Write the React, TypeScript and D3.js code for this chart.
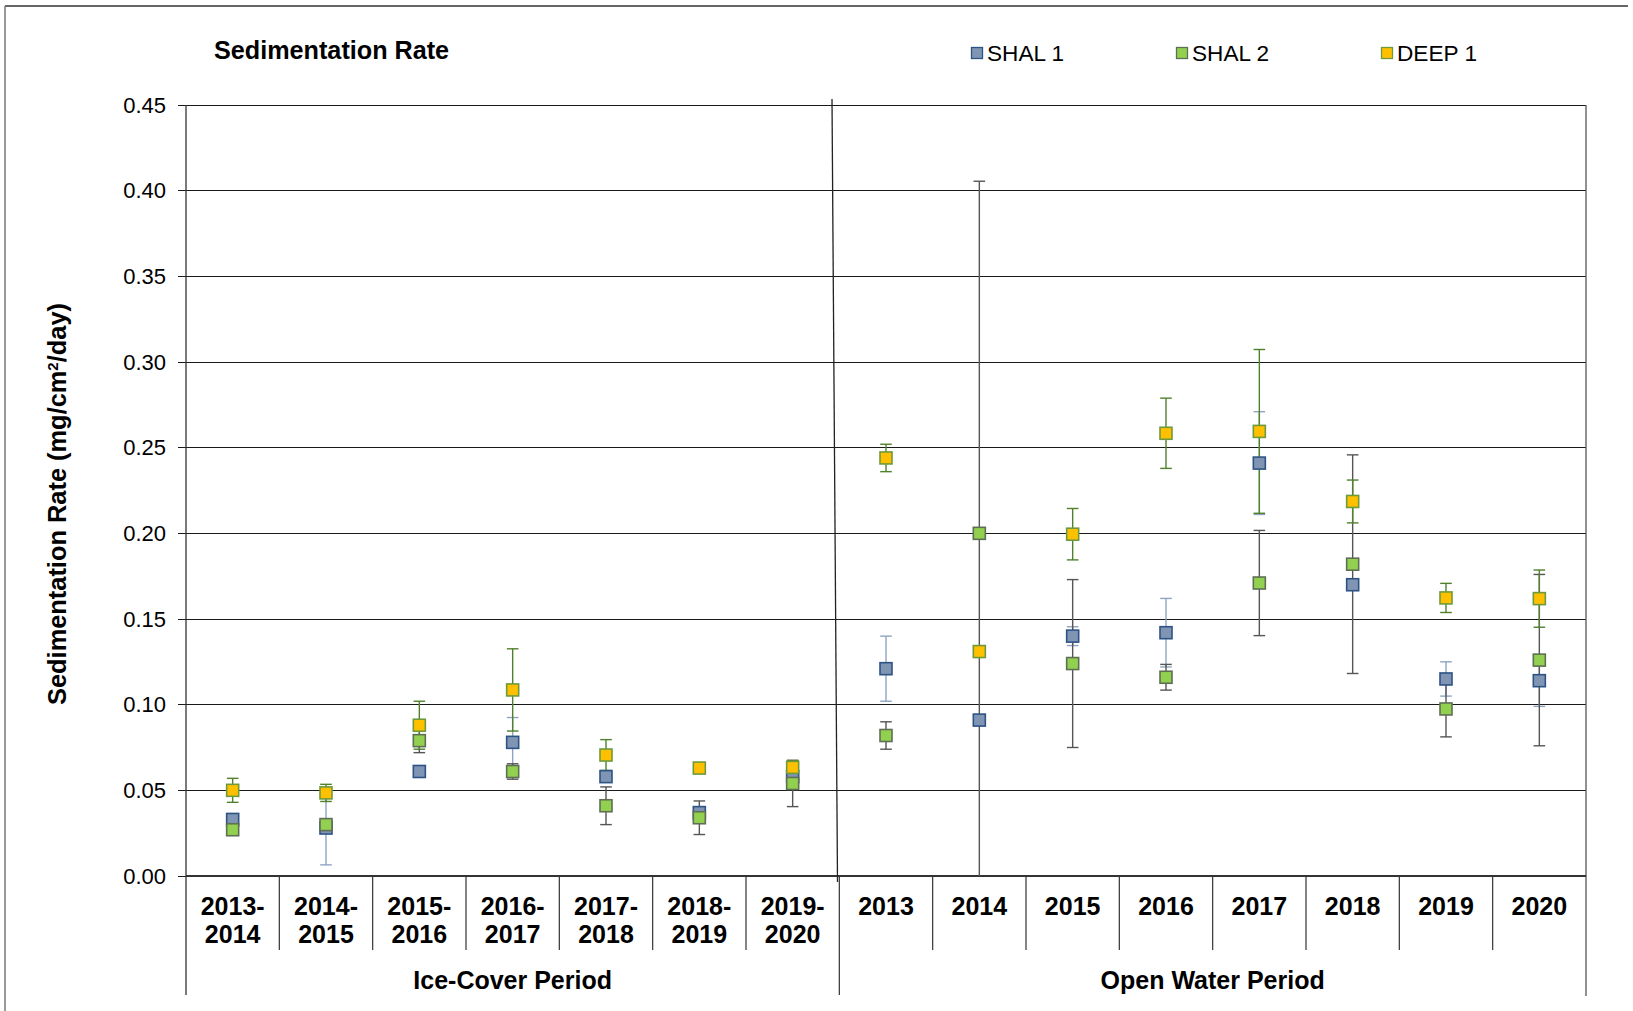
import React from "react";
import * as d3 from "d3";

const categories = ["2013-2014", "2014-2015", "2015-2016", "2016-2017", "2017-2018", "2018-2019", "2019-2020", "2013", "2014", "2015", "2016", "2017", "2018", "2019", "2020"];
const groups = [
  { name: "Ice-Cover Period", first: 0, last: 6 },
  { name: "Open Water Period", first: 7, last: 14 },
];
const yTicks = [0, 0.05, 0.1, 0.15, 0.2, 0.25, 0.3, 0.35, 0.4, 0.45];

const shal1 = [0.033, 0.028, 0.061, 0.078, 0.058, 0.037, 0.058, 0.121, 0.091, 0.140, 0.142, 0.241, 0.170, 0.115, 0.114];
const shal1Err = [0, 0.0215, 0, 0.0145, 0, 0, 0, 0.019, 0, 0.0055, 0.020, 0.030, 0, 0.010, 0.015];
const shal2 = [0.027, 0.030, 0.079, 0.061, 0.041, 0.034, 0.054, 0.082, 0.200, 0.124, 0.116, 0.171, 0.182, 0.0975, 0.126];
const shal2Err = [0, 0, 0.007, 0.0045, 0.011, 0.0098, 0.0135, 0.008, 0.2055, 0.049, 0.0075, 0.0307, 0.0638, 0.0163, 0.050];
const deep1 = [0.050, 0.0485, 0.088, 0.1086, 0.0706, 0.063, 0.0634, 0.244, 0.131, 0.1995, 0.2584, 0.2595, 0.2186, 0.1623, 0.1619];
const deep1Err = [0.007, 0.005, 0.014, 0.024, 0.009, 0, 0.004, 0.008, 0, 0.015, 0.0205, 0.0478, 0.0125, 0.0085, 0.0167];

const series = [
  { name: "SHAL 1", values: shal1, errs: shal1Err, fill: "#7f95b3", stroke: "#2d5385", err: "#8fa4c2" },
  { name: "SHAL 2", values: shal2, errs: shal2Err, fill: "#92d050", stroke: "#5f6f55", err: "#555555" },
  { name: "DEEP 1", values: deep1, errs: deep1Err, fill: "#ffc000", stroke: "#6e9a3c", err: "#4f802c" },
];

const FONT = "'Liberation Sans', Arial, Helvetica, sans-serif";

export default function App() {
  const W = 1633, H = 1011;
  const left = 186, right = 1586, top = 105, bottom = 876;
  const x = d3.scaleBand<string>().domain(categories).range([left, right]).paddingInner(0).paddingOuter(0);
  const y = d3.scaleLinear().domain([0, 0.45]).range([bottom, top]);
  const bw = x.bandwidth();
  const sq = 12;
  const cap = 5.8;

  return (
    <svg width={W} height={H} style={{ position: "absolute", left: 0, top: 0, background: "#fff" }} fontFamily={FONT}>
      <rect x={0} y={0} width={W} height={H} fill="#fff" />
      {/* outer frame */}
      <line x1={5} y1={6} x2={1628} y2={6} stroke="#333" strokeWidth={1.5} />
      <line x1={5} y1={6} x2={5} y2={H} stroke="#777" strokeWidth={1.5} />

      {/* title */}
      <text x={214} y={59} fontSize={25.2} fontWeight="bold" fill="#000">Sedimentation Rate</text>

      {/* legend */}
      {series.map((s, i) => {
        const lx = [977, 1182, 1387][i];
        return (
          <g key={s.name}>
            <rect x={lx - 5.5} y={47.5} width={11} height={11} fill={s.fill} stroke={s.stroke} strokeWidth={1.3} />
            <text x={lx + 10} y={61} fontSize={22.6} fill="#000">{s.name}</text>
          </g>
        );
      })}

      {/* gridlines */}
      {yTicks.map((t) => (
        <g key={t}>
          <line x1={left} x2={right} y1={y(t)} y2={y(t)} stroke="#1a1a1a" strokeWidth={1} shapeRendering="crispEdges" />
          <line x1={left - 8} x2={left} y1={y(t)} y2={y(t)} stroke="#1a1a1a" strokeWidth={1} shapeRendering="crispEdges" />
          <text x={166} y={y(t)} dy="0.35em" textAnchor="end" fontSize={22} fill="#000">{t.toFixed(2)}</text>
        </g>
      ))}

      {/* axes */}
      <line x1={left} x2={left} y1={top} y2={995} stroke="#333" strokeWidth={1.3} />
      <line x1={right} x2={right} y1={top} y2={996} stroke="#555" strokeWidth={1.3} />
      <line x1={left} x2={right} y1={bottom} y2={bottom} stroke="#333" strokeWidth={2} />

      {/* slanted period separator */}
      <line x1={832} y1={99} x2={837.5} y2={882} stroke="#222" strokeWidth={1.3} />

      {/* category dividers */}
      {categories.map((c, i) => {
        if (i === 0) return null;
        const xx = x(c)!;
        const isGroup = groups.some((g) => g.first === i);
        return <line key={c} x1={xx} x2={xx} y1={bottom} y2={isGroup ? 995 : 950} stroke="#333" strokeWidth={1.2} />;
      })}

      {/* category labels */}
      {categories.map((c) => {
        const cx = x(c)! + bw / 2;
        const parts = c.includes("-") ? [c.split("-")[0] + "-", c.split("-")[1]] : [c];
        return (
          <text key={c} x={cx} textAnchor="middle" fontSize={25} fontWeight="bold" fill="#000">
            {parts.map((p, j) => (
              <tspan key={j} x={cx} y={915 + j * 28}>{p}</tspan>
            ))}
          </text>
        );
      })}

      {/* group labels */}
      {groups.map((g) => {
        const x0 = x(categories[g.first])!;
        const x1 = x(categories[g.last])! + bw;
        return (
          <text key={g.name} x={(x0 + x1) / 2} y={989} textAnchor="middle" fontSize={25} fontWeight="bold" fill="#000">{g.name}</text>
        );
      })}

      {/* y axis title */}
      <text transform="translate(66,504) rotate(-90)" textAnchor="middle" fontSize={25.4} fontWeight="bold" fill="#000">
        Sedimentation Rate (mg/cm<tspan baselineShift="super" fontSize={15}>2</tspan>/day)
      </text>

      {/* error bars */}
      {series.map((s) => (
        <g key={s.name + "err"}>
          {s.values.map((v, i) => {
            const e = s.errs[i];
            if (!e) return null;
            const cx = x(categories[i])! + bw / 2;
            const hi = v + e;
            const lo = v - e;
            const loC = Math.max(0, lo);
            return (
              <g key={i} stroke={s.err} strokeWidth={1.4}>
                <line x1={cx} x2={cx} y1={y(hi)} y2={y(loC)} />
                <line x1={cx - cap} x2={cx + cap} y1={y(hi)} y2={y(hi)} />
                {lo >= 0 && <line x1={cx - cap} x2={cx + cap} y1={y(lo)} y2={y(lo)} />}
              </g>
            );
          })}
        </g>
      ))}

      {/* markers */}
      {series.map((s) => (
        <g key={s.name + "m"}>
          {s.values.map((v, i) => {
            const cx = x(categories[i])! + bw / 2;
            return (
              <rect key={i} x={cx - sq / 2} y={y(v) - sq / 2} width={sq} height={sq} fill={s.fill} stroke={s.stroke} strokeWidth={1.6} />
            );
          })}
        </g>
      ))}
    </svg>
  );
}
